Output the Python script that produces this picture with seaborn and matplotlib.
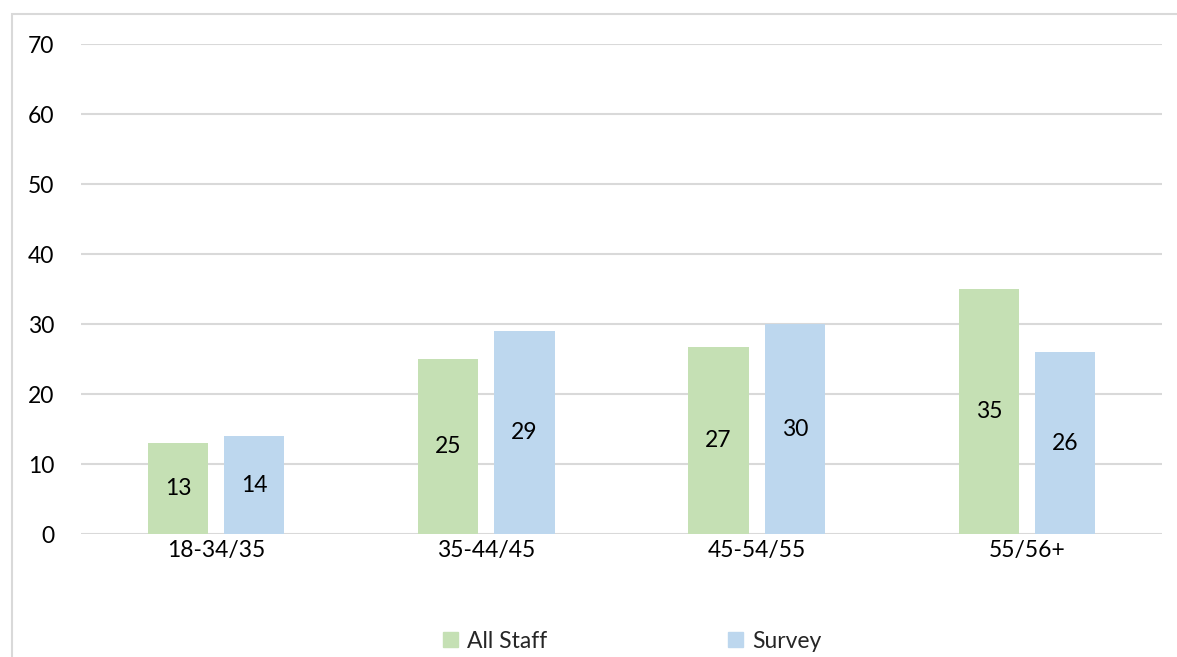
import matplotlib
matplotlib.use("Agg")
import matplotlib.pyplot as plt
from matplotlib.patches import Rectangle
import pandas as pd
import seaborn as sns

# chart values
age_groups = ["18-34/35", "35-44/45", "45-54/55", "55/56+"]
all_staff = [13, 25, 26.7, 35]
survey = [14, 29, 30, 26]
series_names = ["All Staff", "Survey"]
colors = ["#C5E0B4", "#BDD7EE"]

df = pd.DataFrame({
    "age": age_groups * 2,
    "value": all_staff + survey,
    "series": [series_names[0]] * 4 + [series_names[1]] * 4,
})

sns.set_theme(style="white")
plt.rcParams["font.family"] = ["Lato", "DejaVu Sans"]
fs = 16.5

fig = plt.figure(figsize=(11.77, 6.57), dpi=100)
ax = fig.add_axes([0.0688, 0.1872, 0.9185, 0.7458])

sns.barplot(data=df, x="age", y="value", hue="series", palette=colors,
            width=0.564, gap=0.21, saturation=1, linewidth=0, ax=ax, legend=False)

for cont in ax.containers:
    ax.bar_label(cont, fmt="%.0f", label_type="center", fontsize=fs, color="black")

ax.set_ylim(0, 70)
ax.set_yticks(range(0, 71, 10))
ax.set_xlim(-0.5, 3.5)
ax.set_xlabel("")
ax.set_ylabel("")
ax.yaxis.grid(True, color="#D9D9D9", linewidth=1.5)
ax.set_axisbelow(True)
for s in ax.spines.values():
    s.set_visible(False)
ax.tick_params(axis="y", length=0, pad=19, labelsize=fs, labelcolor="black")
ax.tick_params(axis="x", length=0, pad=4, labelsize=fs, labelcolor="black")

# legend
handles = [Rectangle((0, 0), 1, 1, color=c) for c in colors]
fig.legend(handles, series_names, loc="center", bbox_to_anchor=(632 / 1177, 1 - 641 / 657),
           ncol=2, frameon=False, fontsize=fs, handlelength=0.65, handleheight=0.65,
           handletextpad=0.4, columnspacing=7.9)

# chart frame
fig.patches.append(Rectangle((12 / 1177, -0.1), 1.2, 1.1 - 14.5 / 657, transform=fig.transFigure,
                             fill=False, edgecolor="#D9D9D9", linewidth=1.5))

fig.savefig("out.png", dpi=100)
